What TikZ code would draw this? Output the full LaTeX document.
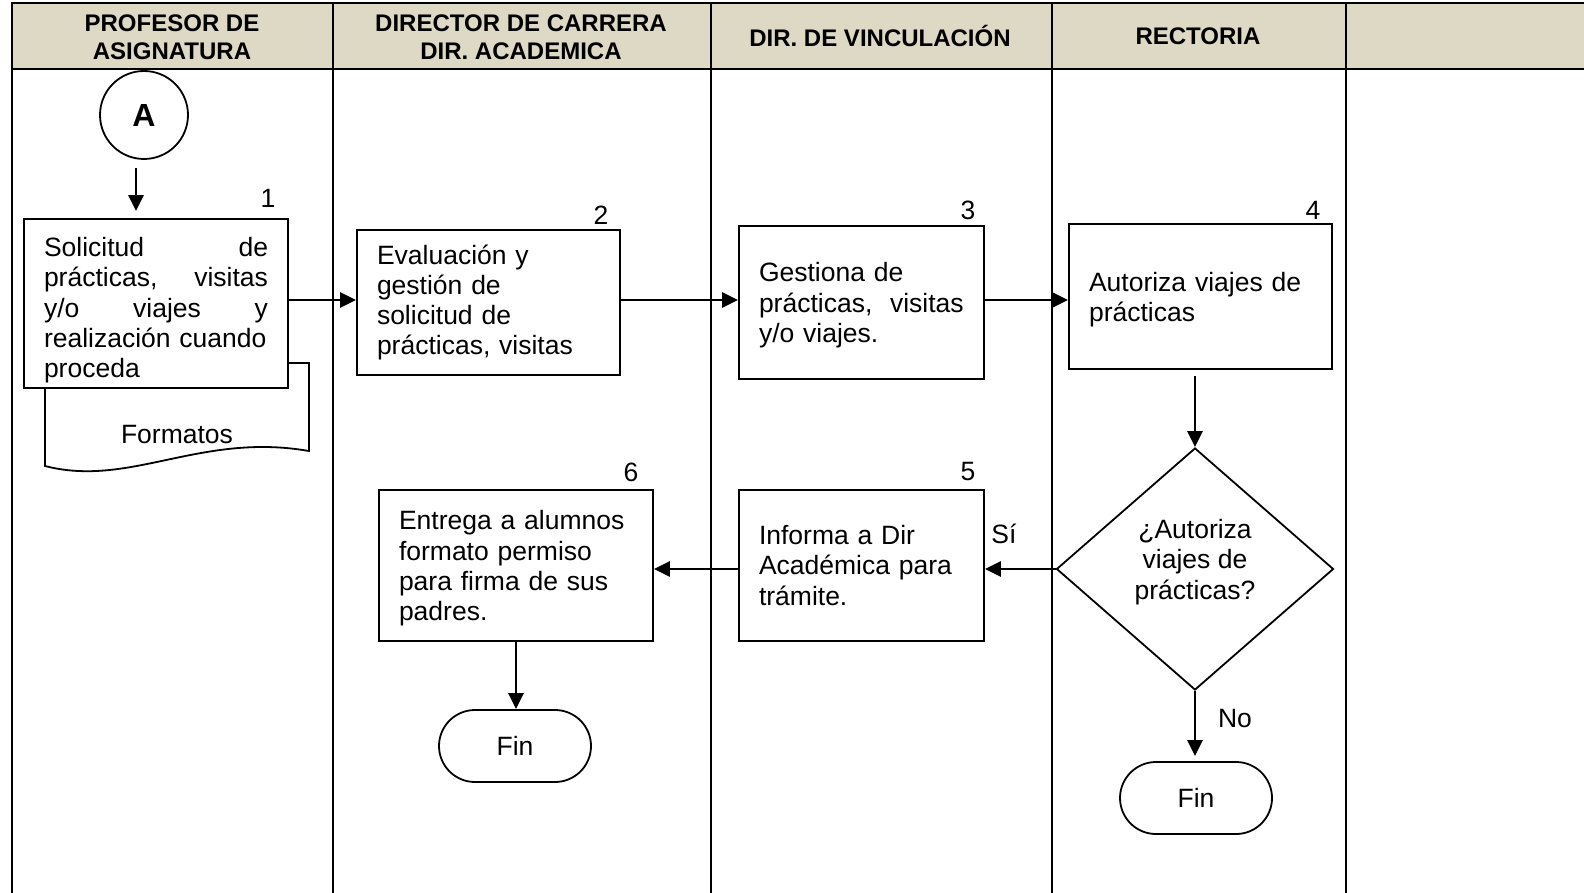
\documentclass[tikz,border=0pt]{standalone}
\usepackage{fontspec}
\setmainfont{Liberation Sans}
\usetikzlibrary{arrows.meta,shapes.geometric}
\definecolor{encabezado}{HTML}{DDD9C4}
\tikzset{
    %Define standard arrow tip
    >={Triangle[length=8pt,width=7.5pt]},
    %Define style for lane lines
    carril/.style={line width=1.3pt},
    %Define style for header texts
    encab/.style={
           align=center,
           font=\fontsize{12}{13.75}\selectfont\bfseries},
    %Define style for plain texts
    texto/.style={font=\fontsize{13.25}{15.15}\selectfont},
    %Define style for boxes
    caja/.style={
           texto,
           rectangle,
           draw=black,
           line width=0.9pt,
           fill=white,
           inner xsep=10pt,
           align=left},
    %Define style for decision
    decision/.style={
           diamond,
           draw=black,
           line width=0.9pt,
           inner sep=0pt,
           minimum width=138.5pt,
           minimum height=121pt},
    %Define style for end nodes
    terminal/.style={
           texto,
           rectangle,
           rounded corners=18pt,
           draw=black,
           line width=0.9pt,
           minimum width=76pt,
           minimum height=36pt},
    %Define style for connector
    conector/.style={
           circle,
           draw=black,
           line width=0.9pt,
           inner sep=0pt,
           minimum size=44pt,
           font=\fontsize{16}{18}\selectfont\bfseries},
    %Define style for document shape
    documento/.style={
           draw=black,
           fill=white,
           line width=0.9pt},
    % Define arrow style
    flecha/.style={
           ->,
           line width=1.4pt}
}

\begin{document}
\begin{tikzpicture}[x=0.5pt,y=-0.5pt]
  \useasboundingbox (0,0) rectangle (1584,893);
  % carriles
  \fill[encabezado] (12,3) rectangle (1584,69);
  \draw[carril] (1584,3) -- (12,3) -- (12,893);
  \draw[carril] (12,69) -- (1584,69);
  \foreach \x in {333,711,1052,1346}
    \draw[carril] (\x,3) -- (\x,893);
  \node[encab] (h1) at (172,37) {PROFESOR DE\\ASIGNATURA};
  \node[encab] (h2) at (521,37) {DIRECTOR DE CARRERA\\DIR. ACADEMICA};
  \node[encab] (h3) at (880,36) {DIR. DE VINCULACIÓN};
  \node[encab] (h4) at (1198,36) {RECTORIA};
  % pasos
  \node[conector] (A) at (144,115) {A};
  \draw[documento] (45,363) -- (309,363) -- (309,451)
    .. controls (200,432) and (130,488) .. (45,466) -- cycle;
  \node[texto] (formatos) at (177,435) {Formatos};
  \node[caja,text width=112pt,minimum height=84.5pt,inner ysep=2pt] (p1) at (156,303.5)
    {\rule{0pt}{16.5pt}Solicitud\hfill de\\prácticas,\hfill visitas\\y/o\hfill viajes\hfill y\\realización cuando\\proceda};
  \node[caja,text width=111.5pt,minimum height=72.5pt] (p2) at (488.5,302.5)
    {Evaluación y\\gestión de\\solicitud de\\prácticas, visitas};
  \node[caja,text width=102.5pt,minimum height=76.5pt] (p3) at (861.5,302.5)
    {\rule{0pt}{12.5pt}Gestiona de\\prácticas,~~visitas\\y/o viajes.};
  \node[caja,text width=111.5pt,minimum height=72.5pt] (p4) at (1200.5,296.5)
    {\rule{0pt}{12.5pt}Autoriza viajes de\\prácticas};
  \node[decision] (d) at (1195,569) {};
  \node[texto,align=center] (dtxt) at (1195,562) {¿Autoriza\\viajes de\\prácticas?};
  \node[caja,text width=102.5pt,minimum height=75.5pt] (p5) at (861.5,565.5)
    {Informa a Dir\\Académica para\\trámite.};
  \node[caja,text width=117pt,minimum height=75.5pt] (p6) at (516,565.5)
    {\rule{0pt}{12.5pt}Entrega a alumnos\\formato permiso\\para firma de sus\\padres.};
  \node[terminal] (f1) at (515,746) {Fin};
  \node[terminal] (f2) at (1196,798) {Fin};
  % numeros
  \node[texto] (n1) at (268,198) {1};
  \node[texto] (n2) at (601,215) {2};
  \node[texto] (n3) at (968,210) {3};
  \node[texto] (n4) at (1313,210) {4};
  \node[texto] (n5) at (968,472) {5};
  \node[texto] (n6) at (631,472) {6};
  % flechas
  \coordinate (fila1) at (0,300);
  \coordinate (fila2) at (0,569);
  \coordinate (a1) at ([xshift=-4pt]A.south);
  \draw[flecha,shorten <=4pt,shorten >=3.5pt] (a1) -- (a1 |- p1.north);
  \draw[flecha] (p1.east |- fila1) -- (p2.west |- fila1);
  \draw[flecha] (p2.east |- fila1) -- (p3.west |- fila1);
  \draw[flecha] (p3.east |- fila1) -- (p4.west |- fila1);
  \draw[flecha,shorten <=3pt] (d.north |- p4.south) -- (d.north);
  \draw[flecha] (d.west) -- (p5.east |- fila2)
    node[texto,pos=0.73,yshift=17.5pt] {Sí};
  \draw[flecha] (p5.west |- fila2) -- (p6.east |- fila2);
  \draw[flecha] (p6.south) -- (p6.south |- f1.north);
  \draw[flecha,shorten >=2.5pt] (d.south) -- (d.south |- f2.north)
    node[texto,pos=0.4,xshift=20pt] {No};
\end{tikzpicture}
\end{document}
